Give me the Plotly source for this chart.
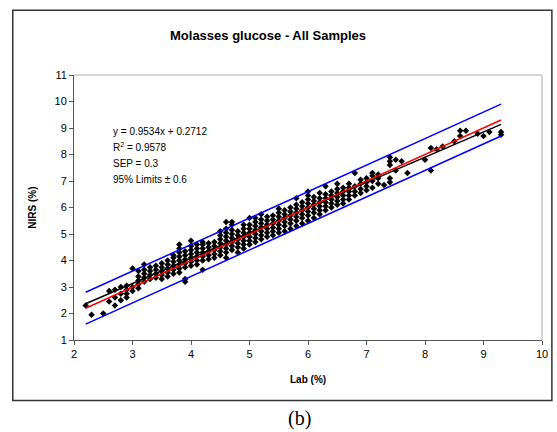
import plotly.graph_objects as go

# ---- data ----
lab_columns = [2.2, 2.3, 2.5, 2.6, 2.7, 2.8, 2.9, 3.0, 3.1, 3.2, 3.3, 3.4, 3.5, 3.6, 3.7, 3.8, 3.9,
               4.0, 4.1, 4.2, 4.3, 4.4, 4.5, 4.6, 4.7, 4.8, 4.9, 5.0, 5.1, 5.2, 5.3, 5.4, 5.5,
               5.6, 5.7, 5.8, 5.9, 6.0, 6.1, 6.2, 6.3, 6.4, 6.5, 6.6, 6.7, 6.8, 6.9, 7.0, 7.1,
               7.2, 7.3, 7.4, 7.5, 7.6, 7.7, 8.0, 8.1, 8.2, 8.3, 8.5, 8.6, 8.7, 8.9, 9.0, 9.1, 9.3]
nirs_columns = [
    [2.3], [1.95], [2.0], [2.45, 2.85], [2.3, 2.6, 2.9], [2.5, 2.75, 3.0],
    [2.6, 2.75, 2.9, 3.05], [2.85, 3.0, 3.7], [2.95, 3.1, 3.25, 3.4, 3.6],
    [3.2, 3.35, 3.5, 3.65, 3.85], [3.3, 3.45, 3.6, 3.75], [3.35, 3.5, 3.65, 3.8],
    [3.3, 3.45, 3.6, 3.75, 3.9], [3.4, 3.55, 3.7, 3.85, 4.0],
    [3.5, 3.65, 3.8, 3.95, 4.1, 4.2], [3.55, 3.7, 3.85, 4.0, 4.15, 4.3, 4.45, 4.6],
    [3.2, 3.3, 3.75, 3.9, 4.05, 4.2, 4.35], [3.8, 3.95, 4.1, 4.25, 4.4, 4.55, 4.75],
    [3.85, 4.0, 4.15, 4.3, 4.45, 4.6], [3.65, 4.0, 4.15, 4.3, 4.45, 4.6, 4.7],
    [4.05, 4.2, 4.35, 4.5, 4.65], [4.1, 4.25, 4.4, 4.55, 4.7],
    [4.2, 4.35, 4.5, 4.65, 4.8, 4.95, 5.1], [4.1, 4.3, 4.45, 4.6, 4.75, 4.9, 5.05, 5.2, 5.45],
    [4.4, 4.55, 4.7, 4.85, 5.0, 5.15, 5.35, 5.45], [4.3, 4.5, 4.65, 4.8, 4.95, 5.1],
    [4.45, 4.6, 4.75, 4.9, 5.05, 5.2, 5.35], [4.6, 4.75, 4.9, 5.05, 5.2, 5.35, 5.6],
    [4.7, 4.85, 5.0, 5.15, 5.3, 5.45, 5.6], [4.8, 4.95, 5.1, 5.25, 5.4, 5.55, 5.75],
    [4.9, 5.05, 5.2, 5.35, 5.5, 5.65], [4.95, 5.1, 5.25, 5.4, 5.55, 5.7],
    [5.05, 5.2, 5.35, 5.5, 5.65, 5.8, 5.95], [5.1, 5.3, 5.45, 5.6, 5.75, 5.9],
    [5.2, 5.4, 5.55, 5.7, 5.85, 6.0], [5.3, 5.5, 5.65, 5.8, 5.95, 6.1, 6.35],
    [5.4, 5.6, 5.75, 5.9, 6.05, 6.2], [5.5, 5.7, 5.85, 6.0, 6.15, 6.3, 6.45, 6.6],
    [5.6, 5.8, 5.95, 6.1, 6.25, 6.4], [5.75, 5.9, 6.05, 6.2, 6.35, 6.55],
    [5.9, 6.05, 6.2, 6.35, 6.5, 6.8], [6.0, 6.15, 6.3, 6.45, 6.6],
    [6.1, 6.25, 6.4, 6.55, 6.7, 6.9], [6.15, 6.3, 6.45, 6.6, 6.75],
    [6.3, 6.45, 6.6, 6.75, 6.9], [6.45, 6.6, 6.8, 7.3], [6.55, 6.7, 6.9, 7.05],
    [6.65, 6.8, 6.95, 7.1], [6.75, 7.0, 7.2, 7.3], [6.9, 7.1, 7.25], [6.85],
    [6.95, 7.1, 7.6, 7.75, 7.9], [7.4, 7.8], [7.75], [7.3], [7.8], [7.4, 8.25],
    [8.2], [8.3], [8.5], [8.7, 8.9], [8.9], [8.78], [8.7], [8.85], [8.75, 8.85],
]
fit_slope = 0.9534
fit_intercept = 0.2712
limit_95 = 0.6
line_x = [2.2, 9.3]
x_ticks = [2, 3, 4, 5, 6, 7, 8, 9, 10]
y_ticks = [1, 2, 3, 4, 5, 6, 7, 8, 9, 10, 11]

lab = []
nirs = []
for xv, ys in zip(lab_columns, nirs_columns):
    for yv in ys:
        lab.append(xv)
        nirs.append(yv)

W, H = 557, 432
L, R, T, B = 74, 548, 74.7, 340
pw, ph = R - L, B - T


def px(x):
    return (x - L) / pw


def py(y):
    return (B - y) / ph


fig = go.Figure()
fig.add_trace(go.Scatter(x=lab, y=nirs, mode="markers",
                         marker=dict(symbol="diamond", size=5, color="black", line=dict(width=0)),
                         showlegend=False, hoverinfo="x+y"))
fig.add_trace(go.Scatter(x=line_x, y=[fit_slope * v + fit_intercept for v in line_x], mode="lines",
                         line=dict(color="black", width=1.5), showlegend=False))
fig.add_trace(go.Scatter(x=line_x, y=line_x, mode="lines",
                         line=dict(color="#ff0000", width=1.5), showlegend=False))
fig.add_trace(go.Scatter(x=line_x, y=[v + limit_95 for v in line_x], mode="lines",
                         line=dict(color="#0000ff", width=1.5), showlegend=False))
fig.add_trace(go.Scatter(x=line_x, y=[v - limit_95 for v in line_x], mode="lines",
                         line=dict(color="#0000ff", width=1.5), showlegend=False))

font = "Arial, Liberation Sans, sans-serif"
axis_common = dict(showgrid=False, zeroline=False, showline=True, linecolor="#555555", linewidth=1,
                   ticks="outside", ticklen=4, tickcolor="#555555", tickwidth=1,
                   tickfont=dict(family=font, size=11, color="black"), fixedrange=True)


def note(text, x, y, size=10, fam=font, xanchor="center", angle=0):
    return dict(text=text, xref="paper", yref="paper", x=px(x), y=py(y), xanchor=xanchor,
                yanchor="middle", textangle=angle, showarrow=False,
                font=dict(family=fam, size=size, color="black"))


fig.update_layout(
    width=W, height=H,
    margin=dict(l=L, r=W - R, t=T, b=H - B),
    paper_bgcolor="white", plot_bgcolor="white",
    xaxis=dict(range=[2, 10], tickvals=x_ticks, **axis_common),
    yaxis=dict(range=[1, 11], tickvals=y_ticks, **axis_common),
    shapes=[
        dict(type="line", xref="paper", yref="paper", x0=0, x1=1, y0=1, y1=1,
             line=dict(color="#aaaaaa", width=1)),
        dict(type="line", xref="paper", yref="paper", x0=1, x1=1, y0=0, y1=1,
             line=dict(color="#aaaaaa", width=1)),
        dict(type="rect", xref="paper", yref="paper", x0=px(12), x1=px(558), y0=py(400.5), y1=py(10),
             line=dict(color="#333333", width=1.5)),
    ],
    annotations=[
        note("<b>Molasses glucose - All Samples</b>", 270, 35, size=13),
        note("<b>NIRS (%)</b>", 32, 208, angle=-90),
        note("<b>Lab (%)</b>", 311, 380),
        note("(b)", 302, 419, size=20, fam="Liberation Serif, Times New Roman, serif"),
        note("y = 0.9534x + 0.2712", 111, 131, xanchor="left"),
        note("R<sup>2</sup> = 0.9578", 111, 147, xanchor="left"),
        note("SEP = 0.3", 111, 163, xanchor="left"),
        note("95% Limits ± 0.6", 111, 179, xanchor="left"),
    ],
)
fig.write_html("out.html")
